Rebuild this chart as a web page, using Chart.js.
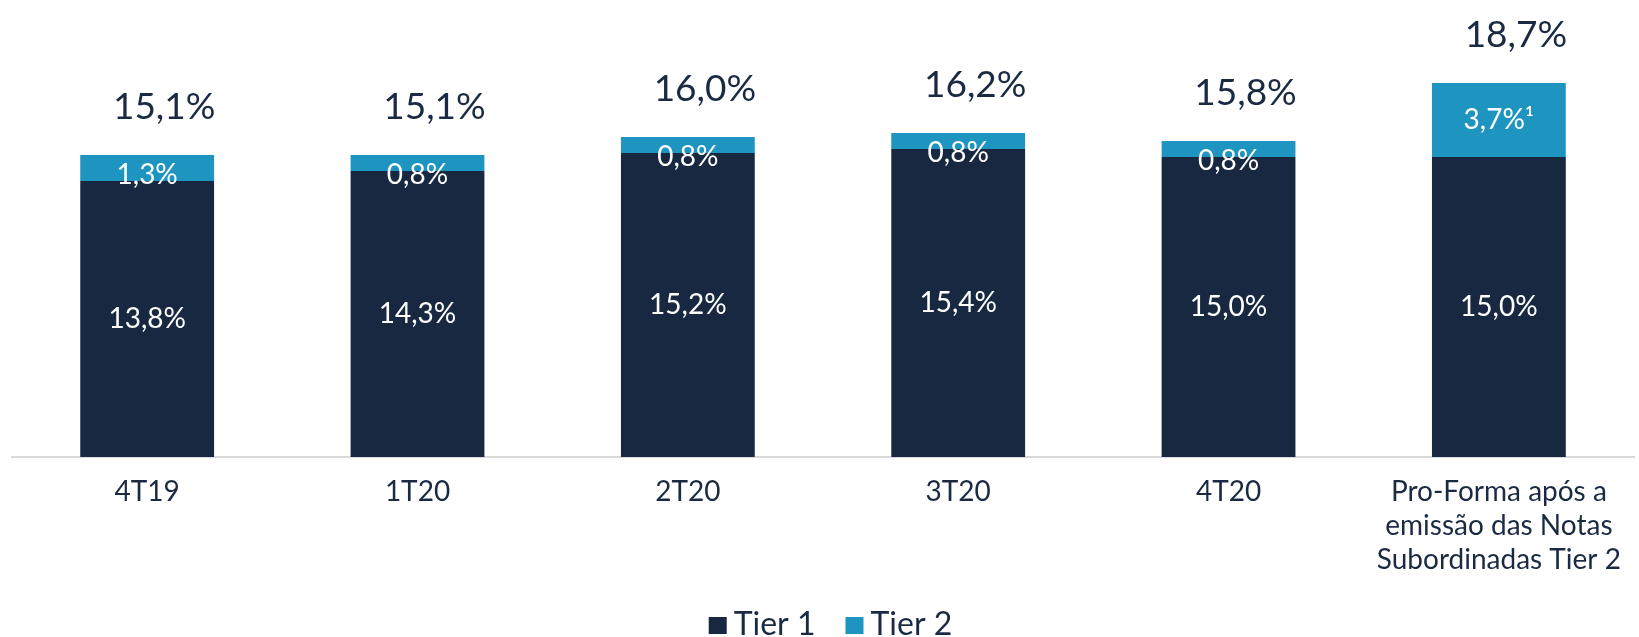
<!DOCTYPE html>
<html lang="pt-BR">
<head>
<meta charset="utf-8">
<title>Índice de Basileia</title>
<script src="https://cdn.jsdelivr.net/npm/chart.js@4.4.1/dist/chart.umd.min.js"></script>
<style>
	html, body { margin: 0; padding: 0; background: #fff; overflow: hidden; }
	#wrap { width: 1639px; height: 637px; }
</style>
</head>
<body>
<div id="wrap"><canvas id="basileiaChart" width="1639" height="637"></canvas></div>
<script>
/* ── 데이터 ── */
const categorias = ['4T19', '1T20', '2T20', '3T20', '4T20',
	['Pro-Forma após a', 'emissão das Notas', 'Subordinadas Tier 2']];
const tier1 = [13.8, 14.3, 15.2, 15.4, 15.0, 15.0];
const tier2 = [1.3, 0.8, 0.8, 0.8, 0.8, 3.7];
const notasTier2 = ['', '', '', '', '', '¹'];
const nomesSeries = ['Tier 1', 'Tier 2'];

const COR_T1 = '#172840';
const COR_T2 = '#1e94c0';
const COR_TEXTO = '#1a2a42';
const FONTE = 'Lato, "Open Sans", sans-serif';

function fmt(v) {
	return v.toFixed(1).replace('.', ',') + '%';
}

/* ── 라벨: 세그먼트 내부 + 합계 ── */
const rotulosPlugin = {
	id: 'rotulos',
	afterDatasetsDraw(chart) {
		const ctx = chart.ctx;
		const m1 = chart.getDatasetMeta(0);
		const m2 = chart.getDatasetMeta(1);
		ctx.save();
		ctx.textAlign = 'center';
		ctx.fillStyle = '#ffffff';

		// Tier 1 — 세그먼트 중앙
		ctx.font = '28px ' + FONTE;
		ctx.textBaseline = 'middle';
		m1.data.forEach(function(bar, i) {
			ctx.fillText(fmt(tier1[i]), bar.x, (bar.y + bar.base) / 2);
		});

		// Tier 2 — 작은 세그먼트는 아래로 밀림
		m2.data.forEach(function(bar, i) {
			const cy = Math.max((bar.y + bar.base) / 2, bar.y + 20);
			ctx.fillText(fmt(tier2[i]) + notasTier2[i], bar.x, cy);
		});

		// 합계
		ctx.fillStyle = COR_TEXTO;
		ctx.font = '37px ' + FONTE;
		ctx.textBaseline = 'alphabetic';
		m2.data.forEach(function(bar, i) {
			const total = Math.round((tier1[i] + tier2[i]) * 10) / 10;
			ctx.fillText(fmt(total), bar.x + 17, bar.y - 36);
		});
		ctx.restore();
	}
};

/* ── 범례 (하단, 직접 그림) ── */
const legendaPlugin = {
	id: 'legenda',
	afterDraw(chart) {
		const ctx = chart.ctx;
		const cores = chart.data.datasets.map(d => d.backgroundColor);
		ctx.save();
		ctx.font = '32px ' + FONTE;
		ctx.textBaseline = 'alphabetic';
		ctx.textAlign = 'left';
		const larguras = nomesSeries.map(n => 18 + 7 + ctx.measureText(n).width);
		const total = larguras.reduce((a, b) => a + b, 0) + 30 * (nomesSeries.length - 1);
		let x = chart.width / 2 + 11 - total / 2;
		nomesSeries.forEach(function(nome, i) {
			ctx.fillStyle = cores[i];
			ctx.fillRect(x, 617, 18, 17);
			ctx.fillStyle = COR_TEXTO;
			ctx.fillText(nome, x + 25, 635);
			x += larguras[i] + 30;
		});
		ctx.restore();
	}
};

new Chart(document.getElementById('basileiaChart'), {
	type: 'bar',
	data: {
		labels: categorias,
		datasets: [
			{ label: nomesSeries[0], data: tier1, backgroundColor: COR_T1, barPercentage: 0.495, categoryPercentage: 1 },
			{ label: nomesSeries[1], data: tier2, backgroundColor: COR_T2, barPercentage: 0.495, categoryPercentage: 1 }
		]
	},
	options: {
		responsive: false,
		devicePixelRatio: 1,
		animation: false,
		layout: { padding: { top: 57, left: 12, right: 1, bottom: 0 } },
		plugins: {
			legend: { display: false },
			tooltip: { enabled: false }
		},
		scales: {
			x: {
				stacked: true,
				grid: { display: false, drawTicks: false },
				border: { display: true, color: '#d9d9d9', width: 2 },
				ticks: {
					color: COR_TEXTO,
					padding: 18,
					maxRotation: 0,
					autoSkip: false,
					font: { family: FONTE, size: 28, lineHeight: 34 / 28 }
				},
				afterFit: function(scale) { scale.height = 180; }
			},
			y: {
				stacked: true,
				display: false,
				min: 0,
				max: 20
			}
		}
	},
	plugins: [rotulosPlugin, legendaPlugin]
});
</script>
</body>
</html>
